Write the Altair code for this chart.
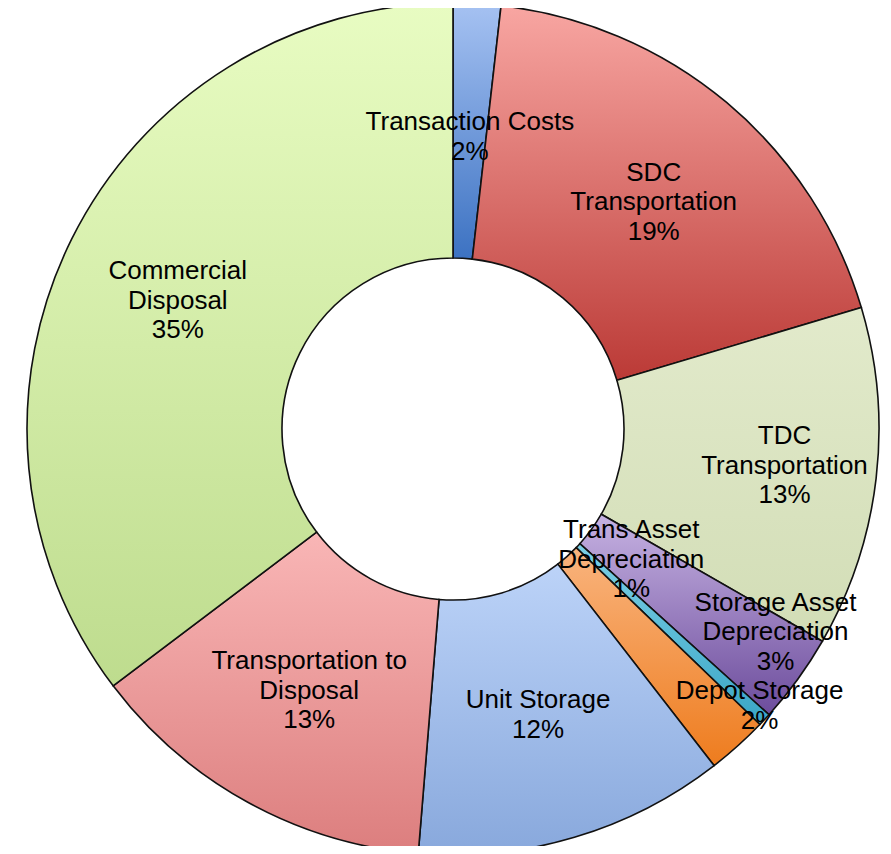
import math
import altair as alt
import pandas as pd

# ---- data ----
categories = [
    "Transaction Costs",
    "SDC Transportation",
    "TDC Transportation",
    "Storage Asset Depreciation",
    "Trans Asset Depreciation",
    "Depot Storage",
    "Unit Storage",
    "Transportation to Disposal",
    "Commercial Disposal",
]
values = [1.8, 18.6, 12.9, 3.4, 0.5, 2.3, 11.8, 13.4, 35.3]
name_lines = [
    ["Transaction Costs"],
    ["SDC", "Transportation"],
    ["TDC", "Transportation"],
    ["Storage Asset", "Depreciation"],
    ["Trans Asset", "Depreciation"],
    ["Depot Storage"],
    ["Unit Storage"],
    ["Transportation to", "Disposal"],
    ["Commercial", "Disposal"],
]
pct_labels = ["2%", "19%", "13%", "3%", "1%", "2%", "12%", "13%", "35%"]

# ---- styles ----
top_colors = ["#a6c2f2", "#f8a6a2", "#e2eacb", "#c6b2e2", "#7cd0e6", "#f9b47e", "#bcd3f8", "#f9b6b6", "#e8fcc2"]
bottom_colors = ["#3c72c2", "#bb3a36", "#d2ddb6", "#6c4c9c", "#3aa6c6", "#ee7c1e", "#88a8dc", "#dc7e7e", "#bedc8e"]
label_nudge = {
    "Transaction Costs": (0, 6),
    "SDC Transportation": (9, 2),
    "TDC Transportation": (35, 2),
    "Storage Asset Depreciation": (81, 28),
    "Trans Asset Depreciation": (-40, -73),
    "Depot Storage": (107, 55),
    "Commercial Disposal": (-8, 5),
}

FONT_SIZE = 26
LINE_H = 29.5

df = pd.DataFrame({"category": categories, "value": values})
df["end"] = df["value"].cumsum()
df["start"] = df["end"] - df["value"]
df["mid"] = (df["start"] + df["end"]) / 2
df["label"] = ["\n".join(n + [p]) for n, p in zip(name_lines, pct_labels)]

W, H = 875, 838
CX, CY = 445, 421
R_OUT, R_IN = 426, 171
R_LAB = (R_OUT + R_IN) / 2

theta_scale = alt.Scale(domain=[0, 100], range=[0, 2 * math.pi])
base = alt.Chart(df)

layers = []
for cat, top, bot in zip(categories, top_colors, bottom_colors):
    grad = {
        "gradient": "linear",
        "x1": 0, "y1": 0, "x2": 0, "y2": 1,
        "stops": [{"offset": 0, "color": top}, {"offset": 1, "color": bot}],
    }
    layers.append(
        base.transform_filter(alt.datum.category == cat)
        .mark_arc(outerRadius=R_OUT, innerRadius=R_IN, fill=grad,
                  stroke="#111111", strokeWidth=1.6)
        .encode(
            theta=alt.Theta("start:Q", stack=None, scale=theta_scale),
            theta2="end:Q",
            x=alt.value(CX),
            y=alt.value(CY),
        )
    )

for cat, lines in zip(categories, name_lines):
    dx, dy = label_nudge.get(cat, (0, 0))
    n_lines = len(lines) + 1
    dy = dy - (n_lines - 1) * LINE_H / 2  # centre the text block vertically
    layers.append(
        base.transform_filter(alt.datum.category == cat)
        .mark_text(radius=R_LAB, font="Liberation Sans", fontSize=FONT_SIZE,
                   lineBreak="\n", lineHeight=LINE_H, align="center",
                   baseline="middle", color="#000000", dx=dx, dy=dy)
        .encode(
            theta=alt.Theta("mid:Q", stack=None, scale=theta_scale),
            text="label:N",
            x=alt.value(CX),
            y=alt.value(CY),
        )
    )

chart = (
    alt.layer(*layers)
    .properties(width=W, height=H, padding=0, autosize="none", background="white")
    .configure_view(stroke=None)
)

chart.save("out.html", embed_options={"renderer": "svg", "actions": False})
